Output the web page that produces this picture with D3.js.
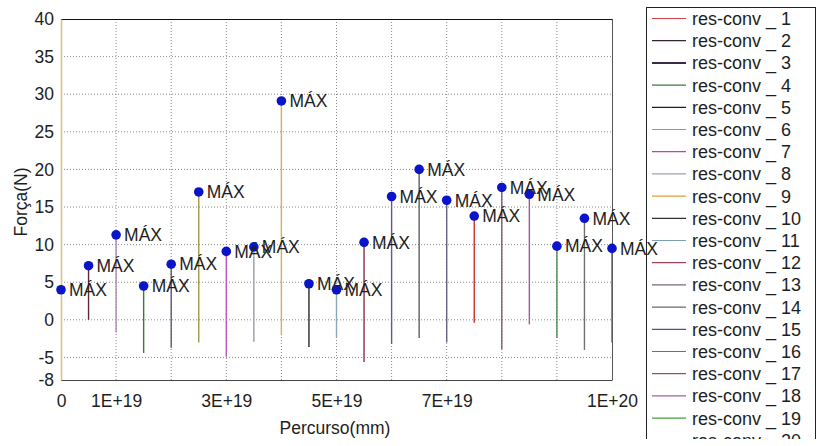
<!DOCTYPE html>
<html>
<head>
<meta charset="utf-8">
<script src="https://cdn.jsdelivr.net/npm/d3@7"></script>
<style>
  html, body { margin: 0; padding: 0; background: #fff; }
  svg { display: block; font-family: "Liberation Sans", Arial, sans-serif; }
</style>
</head>
<body>
<svg id="chart" width="818" height="446"></svg>
<script>
// ---- data ----
const seriesNames = ["res-conv _ 1","res-conv _ 2","res-conv _ 3","res-conv _ 4","res-conv _ 5",
  "res-conv _ 6","res-conv _ 7","res-conv _ 8","res-conv _ 9","res-conv _ 10","res-conv _ 11",
  "res-conv _ 12","res-conv _ 13","res-conv _ 14","res-conv _ 15","res-conv _ 16","res-conv _ 17",
  "res-conv _ 18","res-conv _ 19","res-conv _ 20","res-conv _ 21"];
const xValues = [0, 5e18, 1e19, 1.5e19, 2e19, 2.5e19, 3e19, 3.5e19, 4e19, 4.5e19, 5e19,
  5.5e19, 6e19, 6.5e19, 7e19, 7.5e19, 8e19, 8.5e19, 9e19, 9.5e19, 1e20];
const maxValues = [4.0, 7.2, 11.3, 4.5, 7.4, 17.0, 9.1, 9.7, 29.1, 4.8, 4.0,
  10.3, 16.4, 20.0, 15.9, 13.8, 17.6, 16.7, 9.8, 13.5, 9.5];
const minValues = [4.0, 0.0, -1.7, -4.4, -3.7, -3.0, -4.9, -2.9, -1.9, -3.6, -2.4,
  -5.6, -3.2, -2.4, -3.0, -0.4, -3.9, -0.6, -2.4, -4.0, -3.0];
const seriesColors = ["#d0403c","#5a2a38","#a98ab0","#3c7a3c","#5a5a78","#9c9a48","#c058c0",
  "#9c9aa8","#e0b048","#282828","#8aa8b4","#8a3048","#6c5878","#58645c","#6a6488","#c83030",
  "#7c5a6a","#9a5a9c","#4a8a4a","#707070","#606060"];
const legendColors = ["#d04048","#3a2030","#3a2a48","#3c7a3c","#1e1a30","#9ca048","#c040b0",
  "#a0a0b0","#e0a030","#303030","#7aa0b0","#a04058","#806080","#607060","#5a5080","#c05050",
  "#905070","#a060a0","#40a040","#707070","#606060"];
const yTicks = [40, 35, 30, 25, 20, 15, 10, 5, 0, -5, -8];
const yGrid = [35, 30, 25, 20, 15, 10, 5, 0, -5];
const xTicks = [0, 1e19, 3e19, 5e19, 7e19, 1e20];
const xTickLabels = ["0", "1E+19", "3E+19", "5E+19", "7E+19", "1E+20"];
const xGrid = [1e19, 2e19, 3e19, 4e19, 5e19, 6e19, 7e19, 8e19, 9e19];
const pointLabel = "MÁX";

// ---- layout ----
const svg = d3.select("#chart");
const L = 61, T = 19, R = 612, B = 380;
const x = d3.scaleLinear().domain([0, 1e20]).range([L, R]);
const y = d3.scaleLinear().domain([-8, 40]).range([B, T]);
const txt = "#1e1e1e";
const fs = 17.5;

// grid
svg.append("g").selectAll("line").data(yGrid).join("line")
  .attr("x1", L).attr("x2", R).attr("y1", d => y(d)).attr("y2", d => y(d))
  .attr("stroke", "#8a8a8a").attr("stroke-width", 1).attr("stroke-dasharray", "1,2");
svg.append("g").selectAll("line").data(xGrid).join("line")
  .attr("y1", T).attr("y2", B).attr("x1", d => x(d)).attr("x2", d => x(d))
  .attr("stroke", "#8a8a8a").attr("stroke-width", 1).attr("stroke-dasharray", "1,2");

// frame
svg.append("line").attr("x1", L).attr("x2", R).attr("y1", T + 0.5).attr("y2", T + 0.5)
  .attr("stroke", "#111").attr("stroke-width", 1.2);
svg.append("line").attr("x1", R + 0.5).attr("x2", R + 0.5).attr("y1", T).attr("y2", B)
  .attr("stroke", "#555").attr("stroke-width", 1);

// axes
const yAxis = d3.axisLeft(y).tickValues(yTicks).tickSize(0).tickPadding(7).tickFormat(d => String(d));
const gy = svg.append("g").attr("transform", `translate(${L},0)`).call(yAxis);
gy.select(".domain").attr("stroke", "#d8c48a").attr("stroke-width", 1.6);
gy.selectAll("text").attr("font-size", fs).attr("fill", txt)
  .attr("font-family", "Liberation Sans, Arial, sans-serif");

const xAxis = d3.axisBottom(x).tickValues(xTicks).tickSize(0).tickPadding(15)
  .tickFormat((d, i) => xTickLabels[i]);
const gx = svg.append("g").attr("transform", `translate(0,${B})`).call(xAxis);
gx.select(".domain").attr("stroke", "#444").attr("stroke-width", 1.2);
gx.selectAll("text").attr("font-size", fs).attr("fill", txt)
  .attr("font-family", "Liberation Sans, Arial, sans-serif");

// axis titles
svg.append("text").attr("transform", `translate(27,202) rotate(-90)`)
  .attr("text-anchor", "middle").attr("font-size", fs).attr("fill", txt).text("Força(N)");
svg.append("text").attr("x", 335).attr("y", 434)
  .attr("text-anchor", "middle").attr("font-size", fs).attr("fill", txt).text("Percurso(mm)");

// legend
const defs = svg.append("defs");
defs.append("clipPath").attr("id", "legclip").append("rect")
  .attr("x", 640).attr("y", 0).attr("width", 178).attr("height", 439);
const lg = svg.append("g").attr("clip-path", "url(#legclip)");
lg.append("rect").attr("x", 646.5).attr("y", 7.5).attr("width", 169).attr("height", 480)
  .attr("fill", "#fff").attr("stroke", "#222").attr("stroke-width", 1);
const rowH = 22.2, row0 = 18.5;
const rows = lg.selectAll("g.row").data(seriesNames).join("g").attr("class", "row")
  .attr("transform", (d, i) => `translate(0,${row0 + i * rowH})`);
rows.append("line").attr("x1", 652).attr("x2", 686).attr("y1", 0).attr("y2", 0)
  .attr("stroke", (d, i) => legendColors[i]).attr("stroke-width", (d, i) => i === 2 ? 2 : 1.2);
rows.append("text").attr("x", 692).attr("y", 0).attr("dy", "0.36em")
  .attr("font-size", 18).attr("fill", txt).text(d => d);

// stems
const data = seriesNames.map((n, i) => ({ name: n, x: xValues[i], max: maxValues[i], min: minValues[i], color: seriesColors[i] }));
svg.append("g").selectAll("line").data(data).join("line")
  .attr("x1", d => x(d.x)).attr("x2", d => x(d.x))
  .attr("y1", d => y(d.max)).attr("y2", d => y(d.min))
  .attr("stroke", d => d.color).attr("stroke-width", 1.4);

// points + labels (on top of legend)
svg.append("g").selectAll("circle").data(data).join("circle")
  .attr("cx", d => x(d.x)).attr("cy", d => y(d.max)).attr("r", 4.8)
  .attr("fill", "#0a14c8");
svg.append("g").selectAll("text").data(data).join("text")
  .attr("x", d => x(d.x) + 8).attr("y", d => y(d.max))
  .attr("dy", "0.36em").attr("font-size", fs).attr("fill", txt).text(pointLabel);
</script>
</body>
</html>
